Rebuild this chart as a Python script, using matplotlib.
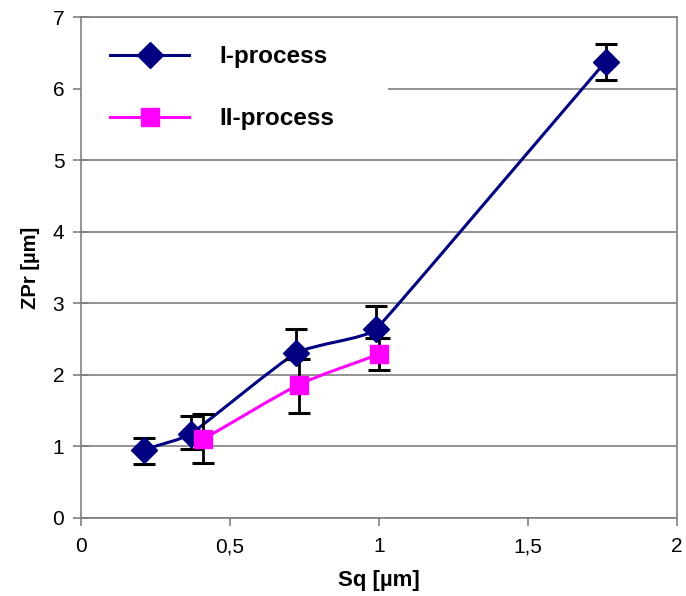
import numpy as np
import matplotlib
matplotlib.use("Agg")
import matplotlib.pyplot as plt
from matplotlib.path import Path
from matplotlib.patches import PathPatch, Rectangle
from matplotlib.lines import Line2D

plt.rcParams['font.family'] = ['Liberation Sans', 'DejaVu Sans']

# I-process
sq1 = [0.21, 0.37, 0.72, 0.99, 1.76]
zpr1 = [0.95, 1.18, 2.30, 2.64, 6.38]
err1_lo = [0.20, 0.21, 0.08, 0.13, 0.25]
err1_hi = [0.17, 0.25, 0.34, 0.33, 0.25]

# II-process
sq2 = [0.41, 0.73, 1.0]
zpr2 = [1.10, 1.86, 2.29]
err2_lo = [0.33, 0.39, 0.22]
err2_hi = [0.35, 0.36, 0.22]

navy = '#000080'
magenta = '#ff00ff'


def smooth_path(x, y):
    # smoothed line drawn as cubic Bezier segments through the points
    p = np.column_stack([x, y]).astype(float)
    n = len(p)
    segs = [np.hypot(*(p[i + 1] - p[i])) for i in range(n - 1)]
    tang, reach = [], []
    for i in range(n):
        d = p[min(i + 1, n - 1)] - p[max(i - 1, 0)]
        tang.append(d / np.hypot(*d))
        near = [segs[j] for j in (i - 1, i) if 0 <= j < n - 1]
        reach.append(min(near) / 3)
    verts = [tuple(p[0])]
    codes = [Path.MOVETO]
    for i in range(n - 1):
        verts += [tuple(p[i] + tang[i] * reach[i]),
                  tuple(p[i + 1] - tang[i + 1] * reach[i + 1]),
                  tuple(p[i + 1])]
        codes += [Path.CURVE4] * 3
    return Path(verts, codes)


fig = plt.figure(figsize=(6.86, 5.96), dpi=100)
ax = fig.add_axes([0.118, 0.131, 0.869, 0.840])

ax.set_xlim(0, 2)
ax.set_ylim(0, 7)
ax.set_yticks(range(0, 8))
ax.set_xticks([0, 0.5, 1, 1.5, 2])
ax.set_xticklabels(['0', '0,5', '1', '1,5', '2'])
ax.yaxis.grid(True, color='#808080', linewidth=1.2)
ax.set_axisbelow(True)
for s in ax.spines.values():
    s.set_color('#808080')
    s.set_linewidth(1.2)
ax.tick_params(axis='y', labelsize=15, color='#808080', length=12,
               width=1.2, direction='inout', pad=6)
ax.tick_params(axis='x', labelsize=15, color='#808080', length=6,
               width=1.2, direction='out', pad=8)

ax.add_patch(PathPatch(smooth_path(sq1, zpr1), facecolor='none',
                       edgecolor=navy, linewidth=2.2, zorder=3))
ax.add_patch(PathPatch(smooth_path(sq2, zpr2), facecolor='none',
                       edgecolor=magenta, linewidth=2.2, zorder=3))

ax.errorbar(sq1, zpr1, yerr=[err1_lo, err1_hi], fmt='none', ecolor='black',
            elinewidth=2, capsize=8, capthick=2.2, zorder=4)
ax.errorbar(sq2, zpr2, yerr=[err2_lo, err2_hi], fmt='none', ecolor='black',
            elinewidth=2, capsize=8, capthick=2.2, zorder=4)
ax.plot(sq1, zpr1, linestyle='none', marker='D', markersize=13,
        color=navy, zorder=5)
ax.plot(sq2, zpr2, linestyle='none', marker='s', markersize=13,
        color=magenta, zorder=5)

# white area behind the legend hides part of the gridline at 6
ax.add_patch(Rectangle((0.0, 0.784), 0.515, 0.19, transform=ax.transAxes,
                       facecolor='white', edgecolor='none', zorder=1.5))

handles = [
    Line2D([], [], color=navy, linewidth=2.2, marker='D', markersize=13),
    Line2D([], [], color=magenta, linewidth=2.2, marker='s', markersize=13),
]
leg = ax.legend(handles, ['I-process', 'II-process'], loc='upper left',
                bbox_to_anchor=(0.049, 0.944), frameon=False,
                borderaxespad=0, borderpad=0, handlelength=3.25,
                handletextpad=1.25, labelspacing=1.6,
                prop={'weight': 'bold', 'size': 17.5})
leg.set_zorder(6)

ax.set_xlabel('Sq [µm]', fontsize=16, fontweight='bold', labelpad=10)
ax.set_ylabel('ZPr [µm]', fontsize=14.5, fontweight='bold', labelpad=9)

fig.savefig('out.png', dpi=100)
